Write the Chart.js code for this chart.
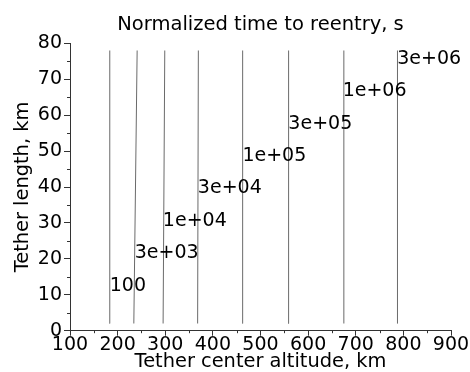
<!DOCTYPE html>
<html>
<head>
<meta charset="utf-8">
<script src="https://cdn.jsdelivr.net/npm/chart.js@4/dist/chart.umd.min.js"></script>
<style>
  html, body { margin: 0; padding: 0; background: #fff; }
  #wrap { width: 470px; height: 372px; position: relative; }
</style>
</head>
<body>
<div id="wrap"><canvas id="c" width="470" height="372"></canvas></div>
<script>
// Contour levels (labels) and the altitude of each contour at bottom and top of the drawn range
const levels      = ['100', '3e+03', '1e+04', '3e+04', '1e+05', '3e+05', '1e+06', '3e+06'];
const lengthRange = [2, 78];                                        // tether length, km (contour extent)
const altBottom   = [183, 234, 295.5, 368, 462, 558, 675, 788];     // altitude at length 2 km
const altTop      = [183.5, 241, 299, 369.5, 462.5, 559, 675, 787.6]; // altitude at length 78 km
const labelAlt    = [183.5, 236, 295, 368.5, 462, 558.5, 672.5, 787]; // label anchor (left edge)
const labelLen    = [12.4, 21.7, 30.6, 39.7, 48.5, 57.6, 66.6, 75.6];  // label anchor (middle)
const xTicksMajor = [100, 200, 300, 400, 500, 600, 700, 800, 900];
const xTicksMinor = [150, 250, 350, 450, 550, 650, 750, 850];
const yTicksMajor = [0, 10, 20, 30, 40, 50, 60, 70, 80];
const yTicksMinor = [5, 15, 25, 35, 45, 55, 65, 75];

const FONT = "'DejaVu Sans', 'Liberation Sans', sans-serif";
const AXIS_COLOR = '#333';

const datasets = levels.map((lv, i) => ({
  label: lv,
  data: [{x: altBottom[i], y: lengthRange[0]}, {x: altTop[i], y: lengthRange[1]}],
  showLine: true,
  borderColor: '#6a6a6a',
  borderWidth: 1,
  pointRadius: 0,
  fill: false
}));

const labelPlugin = {
  id: 'contourLabels',
  afterDatasetsDraw(chart) {
    const {ctx, scales: {x, y}} = chart;
    ctx.save();
    ctx.font = '19px ' + FONT;
    ctx.fillStyle = '#000';
    ctx.textAlign = 'left';
    ctx.textBaseline = 'middle';
    levels.forEach((lv, i) => {
      ctx.fillText(lv, x.getPixelForValue(labelAlt[i]), y.getPixelForValue(labelLen[i]));
    });
    ctx.restore();
  }
};

const minorTickPlugin = {
  id: 'minorTicks',
  afterDraw(chart) {
    const {ctx, scales: {x, y}} = chart;
    ctx.save();
    ctx.strokeStyle = AXIS_COLOR;
    ctx.lineWidth = 1;
    ctx.beginPath();
    xTicksMinor.forEach(v => {
      const px = Math.round(x.getPixelForValue(v)) + 0.5;
      ctx.moveTo(px, y.bottom);
      ctx.lineTo(px, y.bottom + 2.5);
    });
    yTicksMinor.forEach(v => {
      const py = Math.round(y.getPixelForValue(v)) + 0.5;
      ctx.moveTo(x.left, py);
      ctx.lineTo(x.left - 3, py);
    });
    ctx.stroke();
    ctx.restore();
  }
};

new Chart(document.getElementById('c'), {
  type: 'scatter',
  data: { datasets },
  plugins: [labelPlugin, minorTickPlugin],
  options: {
    responsive: false,
    animation: false,
    events: [],
    layout: { padding: { left: 0, right: 19, top: 0, bottom: 0 } },
    plugins: {
      legend: { display: false },
      tooltip: { enabled: false },
      title: {
        display: true,
        text: 'Normalized time to reentry, s',
        fullSize: false,
        color: '#000',
        font: { family: FONT, size: 19.5, weight: 'normal', lineHeight: 1.2 },
        padding: { top: 13.5, bottom: 6.4 }
      }
    },
    scales: {
      x: {
        type: 'linear',
        min: 100, max: 900,
        afterBuildTicks: s => { s.ticks = xTicksMajor.map(v => ({value: v})); },
        afterFit: s => { s.height = 41.3; },
        grid: { drawOnChartArea: false, drawTicks: true, tickLength: 5, color: AXIS_COLOR },
        border: { display: true, color: AXIS_COLOR, width: 1 },
        ticks: { color: '#000', padding: 0, maxRotation: 0, autoSkip: false,
                 font: { family: FONT, size: 19, lineHeight: 1 } },
        title: { display: true, text: 'Tether center altitude, km', color: '#000',
                 font: { family: FONT, size: 19.4, lineHeight: 1 }, padding: { top: 0, bottom: 0 } }
      },
      y: {
        type: 'linear',
        min: 0, max: 80,
        afterBuildTicks: s => { s.ticks = yTicksMajor.map(v => ({value: v})); },
        afterFit: s => { s.width = 70; },
        grid: { drawOnChartArea: false, drawTicks: true, tickLength: 6, color: AXIS_COLOR },
        border: { display: true, color: AXIS_COLOR, width: 1 },
        ticks: { color: '#000', padding: 2, autoSkip: false,
                 font: { family: FONT, size: 19, lineHeight: 1 } },
        title: { display: true, text: 'Tether length, km', color: '#000',
                 font: { family: FONT, size: 19.4, lineHeight: 1.2 }, padding: { top: 11, bottom: 0 } }
      }
    }
  }
});
</script>
</body>
</html>
